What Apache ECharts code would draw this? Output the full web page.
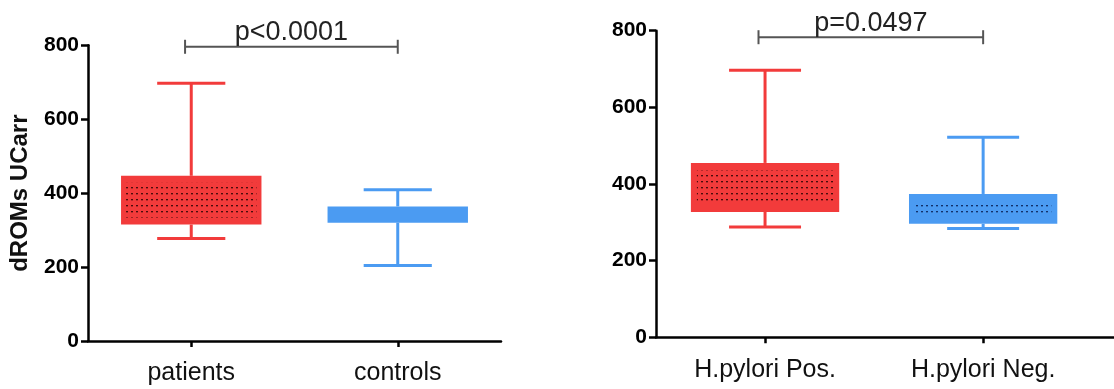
<!DOCTYPE html>
<html>
<head>
<meta charset="utf-8">
<script src="https://cdn.jsdelivr.net/npm/echarts@6/dist/echarts.min.js"></script>
<style>
  html, body { margin: 0; padding: 0; background: #fff; }
  #chart { width: 1114px; height: 389px; }
</style>
</head>
<body>
<div id="chart"></div>
<script>
// left panel: dROMs by group
const leftCategories = ['patients', 'controls'];
const leftMin = [277, 204];
const leftQ1 = [315, 320];
const leftQ3 = [447, 364];
const leftMax = [697, 409];

// right panel: by H.pylori status
const rightCategories = ['H.pylori Pos.', 'H.pylori Neg.'];
const rightMin = [288, 284];
const rightQ1 = [327, 296];
const rightQ3 = [455, 374];
const rightMax = [697, 522];

const yTicks = [0, 200, 400, 600, 800];
const pLabels = ['p<0.0001', 'p=0.0497'];
const bracketLevels = [796, 783];

const colors = ['#f23b3b', '#4b9bf2'];
const dotColors = ['#4a0c0c', '#12306a'];
const FONT = '"Liberation Sans", Arial, sans-serif';

function dotPattern(bg, dot, w, h) {
  const c = document.createElement('canvas');
  c.width = w;
  c.height = h;
  const ctx = c.getContext('2d');
  ctx.fillStyle = bg;
  ctx.fillRect(0, 0, w, h);
  ctx.fillStyle = dot;
  ctx.fillRect(1, 1, 2, 1);
  ctx.globalAlpha = 0.35;
  ctx.fillRect(1, 2, 2, 1);
  return { image: c, repeat: 'repeat' };
}

function boxRender(dotted, inset) {
  return function (params, api) {
    const x = api.value(0);
    const lo = api.coord([x, api.value(1)]);
    const q1 = api.coord([x, api.value(2)]);
    const q3 = api.coord([x, api.value(3)]);
    const hi = api.coord([x, api.value(4)]);
    const unit = api.size([1, 0])[0];
    const bw = unit * 0.68;
    const cw = unit * 0.33;
    const i = params.dataIndex;
    const color = colors[i];
    const line = (x1, y1, x2, y2) => ({
      type: 'line',
      shape: { x1, y1, x2, y2 },
      style: { stroke: color, lineWidth: 3 }
    });
    const children = [
      line(lo[0], lo[1], q1[0], q1[1]),
      line(q3[0], q3[1], hi[0], hi[1]),
      line(lo[0] - cw / 2, lo[1], lo[0] + cw / 2, lo[1]),
      line(hi[0] - cw / 2, hi[1], hi[0] + cw / 2, hi[1]),
      {
        type: 'rect',
        shape: { x: q3[0] - bw / 2, y: q3[1], width: bw, height: q1[1] - q3[1] },
        style: { fill: color }
      }
    ];
    if (dotted[i]) {
      children.push({
        type: 'rect',
        shape: {
          x: q3[0] - bw / 2 + inset[0],
          y: q3[1] + inset[1],
          width: bw - 2 * inset[0],
          height: q1[1] - q3[1] - 2 * inset[1]
        },
        style: { fill: dotPattern(color, dotColors[i], 5, 6) }
      });
    }
    return { type: 'group', children };
  };
}

function bracketRender(params, api) {
  const a = api.coord([api.value(0), api.value(2)]);
  const b = api.coord([api.value(1), api.value(2)]);
  const st = { stroke: '#555', lineWidth: 2 };
  return {
    type: 'group',
    children: [
      { type: 'line', shape: { x1: a[0], y1: a[1], x2: b[0], y2: b[1] }, style: st },
      { type: 'line', shape: { x1: a[0], y1: a[1] - 7, x2: a[0], y2: a[1] + 7 }, style: st },
      { type: 'line', shape: { x1: b[0], y1: b[1] - 7, x2: b[0], y2: b[1] + 7 }, style: st },
      {
        type: 'text',
        x: (a[0] + b[0]) / 2,
        y: a[1] - 14,
        style: {
          text: pLabels[params.seriesIndex === 1 ? 0 : 1],
          fill: '#222',
          font: '27px ' + FONT,
          align: 'center',
          verticalAlign: 'middle'
        }
      }
    ]
  };
}

function xAxis(gridIndex, cats, max) {
  return {
    type: 'value',
    gridIndex,
    min: 0,
    max,
    splitLine: { show: false },
    axisLine: { show: true, onZero: false, lineStyle: { color: '#000', width: 2.5 } },
    axisTick: { show: true, customValues: [0.5, 1.5], length: 6, lineStyle: { color: '#000', width: 2.5 } },
    axisLabel: {
      customValues: [0.5, 1.5],
      formatter: v => cats[Math.round(v - 0.5)],
      fontSize: 25,
      fontFamily: FONT,
      color: '#111',
      margin: 20
    }
  };
}

function yAxis(gridIndex, name) {
  return {
    type: 'value',
    gridIndex,
    min: yTicks[0],
    max: yTicks[yTicks.length - 1],
    interval: 200,
    name,
    nameLocation: 'middle',
    nameGap: 56,
    nameTextStyle: { fontSize: 24, fontWeight: 'bold', fontFamily: FONT, color: '#111' },
    splitLine: { show: false },
    axisLine: { show: true, lineStyle: { color: '#000', width: 2.5 } },
    axisTick: { show: true, length: 7, lineStyle: { color: '#000', width: 2.5 } },
    axisLabel: { fontSize: 21, fontWeight: 'bold', fontFamily: FONT, color: '#000', margin: 9 }
  };
}

const leftData = leftCategories.map((c, i) => [i + 0.5, leftMin[i], leftQ1[i], leftQ3[i], leftMax[i]]);
const rightData = rightCategories.map((c, i) => [i + 0.5, rightMin[i], rightQ1[i], rightQ3[i], rightMax[i]]);

const chart = echarts.init(document.getElementById('chart'));
chart.setOption({
  animation: false,
  grid: [
    { left: 88, top: 45.3, width: 413, height: 295.7 },
    { left: 656, top: 30.7, width: 458, height: 306.6 }
  ],
  xAxis: [xAxis(0, leftCategories, 2), xAxis(1, rightCategories, 2.1)],
  yAxis: [yAxis(0, 'dROMs UCarr'), yAxis(1, '')],
  series: [
    {
      type: 'custom',
      xAxisIndex: 0,
      yAxisIndex: 0,
      renderItem: boxRender([true, false], [5, 7]),
      encode: { x: 0, y: [1, 2, 3, 4] },
      data: leftData
    },
    {
      type: 'custom',
      xAxisIndex: 0,
      yAxisIndex: 0,
      renderItem: bracketRender,
      encode: { x: [0, 1], y: 2 },
      data: [[0.47, 1.5, bracketLevels[0]]]
    },
    {
      type: 'custom',
      xAxisIndex: 1,
      yAxisIndex: 1,
      renderItem: boxRender([true, true], [6, 7]),
      encode: { x: 0, y: [1, 2, 3, 4] },
      data: rightData
    },
    {
      type: 'custom',
      xAxisIndex: 1,
      yAxisIndex: 1,
      renderItem: bracketRender,
      encode: { x: [0, 1], y: 2 },
      data: [[0.47, 1.5, bracketLevels[1]]]
    }
  ]
});
</script>
</body>
</html>
